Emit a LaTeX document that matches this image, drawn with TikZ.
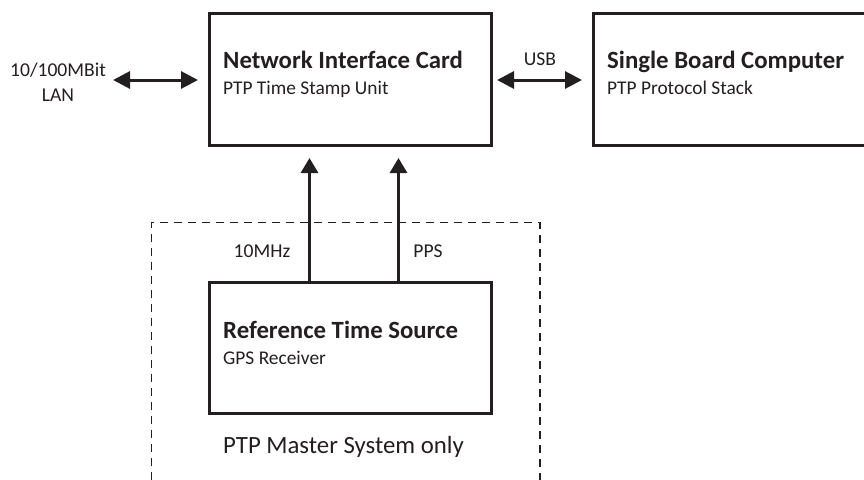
\documentclass[tikz,border=0pt]{standalone}
\usepackage{fontspec}
\setmainfont{Carlito}
\usepackage{tikz}
\usetikzlibrary{arrows.meta, positioning, calc}
\definecolor{ink}{HTML}{231F20}

\begin{document}
\begin{tikzpicture}[x=1pt,y=-1pt,
  unit/.style={draw=ink, line width=3pt, inner sep=0pt, outer sep=0pt, anchor=north west},
  title/.style={text=ink, inner sep=0pt, anchor=base west, font=\fontsize{24.8}{29}\selectfont\bfseries},
  sub/.style={text=ink, inner sep=0pt, anchor=base west, font=\fontsize{19.4}{23}\selectfont},
  lbl/.style={text=ink, inner sep=0pt, anchor=base, font=\fontsize{19.6}{25}\selectfont},
  link/.style={draw=ink, line width=3pt, {Triangle[length=17pt,width=17pt]}-{Triangle[length=17pt,width=17pt]}},
  sig/.style={draw=ink, line width=3pt, -{Triangle[length=15pt,width=17pt]}}]
\useasboundingbox (0,0) rectangle (864,479);
% The master frame
\node (master) [draw=ink, line width=1.3pt, dash pattern=on 8pt off 6pt, inner sep=0pt, outer sep=0pt, anchor=north west,
  minimum width=388.3pt, minimum height=290pt] at (151.7,222.7) {};
% The units
\node (nic) [unit, minimum width=282pt, minimum height=132pt] at (209,13.5) {};
\node (sbc) [unit, minimum width=290pt, minimum height=132pt] at (593.5,13.5) {};
\node (rts) [unit, minimum width=281.5pt, minimum height=131pt] at (209.5,282.5) {};
\node (nictitle) [title] at ($(nic.north west)+(14,55)$) {Network Interface Card};
\node (nicsub) [sub] at ($(nic.north west)+(14,81)$) {PTP Time Stamp Unit};
\node (sbctitle) [title] at ($(sbc.north west)+(13.5,54.5)$) {Single Board Computer};
\node (sbcsub) [sub] at ($(sbc.north west)+(13.5,80.5)$) {PTP Protocol Stack};
\node (rtstitle) [title] at ($(rts.north west)+(13.5,56)$) {Reference Time Source};
\node (rtssub) [sub] at ($(rts.north west)+(13.5,81.5)$) {GPS Receiver};
\node (mastertext) [title, font=\fontsize{24.8}{29}\selectfont] at (223,453) {PTP Master System only};
% Labels
\node (lan) [lbl, align=center] at (58,101) {10/100MBit\\LAN};
\node (usb) [lbl] at (540,65) {USB};
\node (mhz) [lbl] at (262,257) {10MHz};
\node (pps) [lbl] at (428,257) {PPS};
% The links
\coordinate (lanend) at (113,80);
\draw [link, shorten >=11pt] (lanend) -- (lanend -| nic.west);
\draw [link, shorten <=6pt, shorten >=11.5pt] (nic.east |- lanend) -- (sbc.west |- lanend);
\draw [sig, shorten >=12.5pt] ($(rts.north west)+(100,0)$) coordinate (mhzstart) -- (mhzstart |- nic.south);
\draw [sig, shorten >=12.5pt] ($(rts.north west)+(189,0)$) coordinate (ppsstart) -- (ppsstart |- nic.south);
\end{tikzpicture}
\end{document}
